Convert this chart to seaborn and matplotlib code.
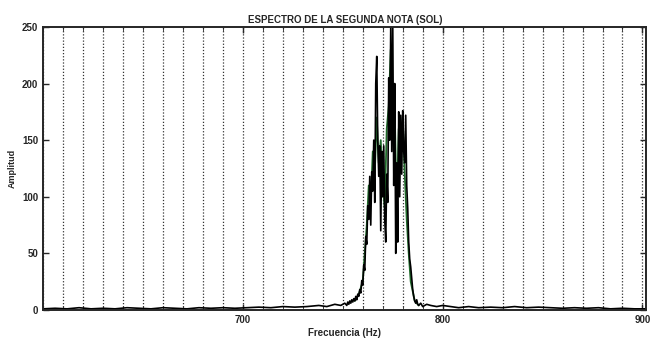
import numpy as np
import pandas as pd
import matplotlib
matplotlib.use("Agg")
import matplotlib.pyplot as plt
import seaborn as sns
from matplotlib.ticker import MultipleLocator

# espectro de la segunda nota (SOL)
freq = [600, 606, 612, 618, 624, 630, 636, 642, 648, 654, 660, 666, 672, 678, 684,
        690, 696, 702, 708, 714, 720, 726, 732, 738, 742, 746, 749, 751,
        752, 752.5, 753, 753.5, 754, 754.5, 755, 755.5, 756, 756.5, 757, 757.5,
        758, 758.5, 759, 759.5, 760, 760.5, 761, 761.5, 762, 762.5, 763, 763.5,
        764, 764.5, 765, 765.5, 766, 766.5, 767, 767.5, 768, 768.5, 769, 769.5,
        770, 770.5, 771, 771.5, 772, 772.5, 773, 773.5, 774, 774.5, 775, 775.5,
        776, 776.5, 777, 777.5, 778, 778.5, 779, 779.5, 780, 780.5, 781, 781.5,
        782, 782.5, 783, 783.5, 784, 784.5, 785, 785.5, 786, 786.5, 787, 787.5,
        788, 789, 790, 792, 794, 797, 800, 804, 808, 813, 818, 824, 830, 836,
        842, 848, 854, 860, 866, 872, 878, 884, 890, 896, 902]
amp = [1, 1.5, 1, 2, 1, 1.5, 1, 2, 1.5, 1, 2, 1.5, 1, 2, 1.5,
       2, 1.5, 2, 2.5, 2, 3, 2.5, 3, 4, 3, 5, 4, 6,
       4, 7, 5, 8, 6, 9, 7, 10, 8, 12, 9, 14,
       12, 18, 15, 26, 22, 40, 35, 65, 58, 92, 80, 118,
       75, 122, 105, 150, 95, 200, 224, 150, 118, 145, 70, 140,
       100, 145, 80, 60, 120, 95, 205, 150, 250, 140, 255, 110,
       200, 50, 130, 60, 175, 100, 172, 120, 176, 140, 130, 172,
       110, 90, 60, 45, 38, 28, 18, 12, 8, 6, 9, 5,
       4, 6, 3, 5, 4, 3, 4, 3, 2, 3, 2, 2.5, 2, 3,
       2, 2.5, 2, 1.5, 2, 1.5, 2, 1, 1.5, 1, 1]

# traza verde (parcialmente oculta bajo la negra)
freq_g = [756, 758, 760, 761, 762, 763, 764, 765, 766, 767, 768, 769, 770, 771,
          772, 773, 774, 775, 776, 777, 778, 779, 780, 781, 782, 783, 784, 786, 788]
amp_g = [8, 14, 25, 50, 75, 110, 95, 140, 120, 170, 130, 150, 110, 90,
         160, 180, 230, 150, 175, 90, 160, 140, 170, 120, 80, 50, 25, 8, 4]

df = pd.DataFrame({"Frecuencia": freq, "Amplitud": amp})
df_g = pd.DataFrame({"Frecuencia": freq_g, "Amplitud": amp_g})

sns.set_style("ticks")
plt.rcParams["font.family"] = ["Liberation Sans", "DejaVu Sans"]

fig = plt.figure(figsize=(6.53, 3.41), dpi=100)
ax = fig.add_axes([0.066, 0.091, 0.924, 0.830])

sns.lineplot(x="Frecuencia", y="Amplitud", data=df_g, ax=ax, color="#1f6b2a", lw=1.3)
sns.lineplot(x="Frecuencia", y="Amplitud", data=df, ax=ax, color="black", lw=1.2)

ax.set_xlim(600, 902)
ax.set_ylim(0, 250)
ax.xaxis.set_minor_locator(MultipleLocator(10))
ax.yaxis.set_major_locator(MultipleLocator(50))
ax.set_xticks([700, 800, 900])
ax.set_xticklabels(["700", "800", "900"])
ax.tick_params(direction="in", top=True, right=True, labelsize=7, length=4, width=1)
ax.tick_params(which="minor", direction="in", top=True, bottom=True, length=3)
for lab in ax.get_xticklabels() + ax.get_yticklabels():
    lab.set_fontweight("bold")
ax.grid(True, axis="x", which="both", color="#333333", linestyle=(0, (1, 1.5)), linewidth=0.9)
for s in ax.spines.values():
    s.set_linewidth(1.4)
    s.set_visible(True)

ax.set_title("ESPECTRO DE LA SEGUNDA NOTA (SOL)", fontsize=7, pad=3, fontweight="bold")
ax.set_xlabel("Frecuencia (Hz)", fontsize=7, labelpad=2, fontweight="bold")
ax.set_ylabel("Amplitud", fontsize=6.5, labelpad=4, fontweight="bold")

fig.savefig("out.png", dpi=100)
